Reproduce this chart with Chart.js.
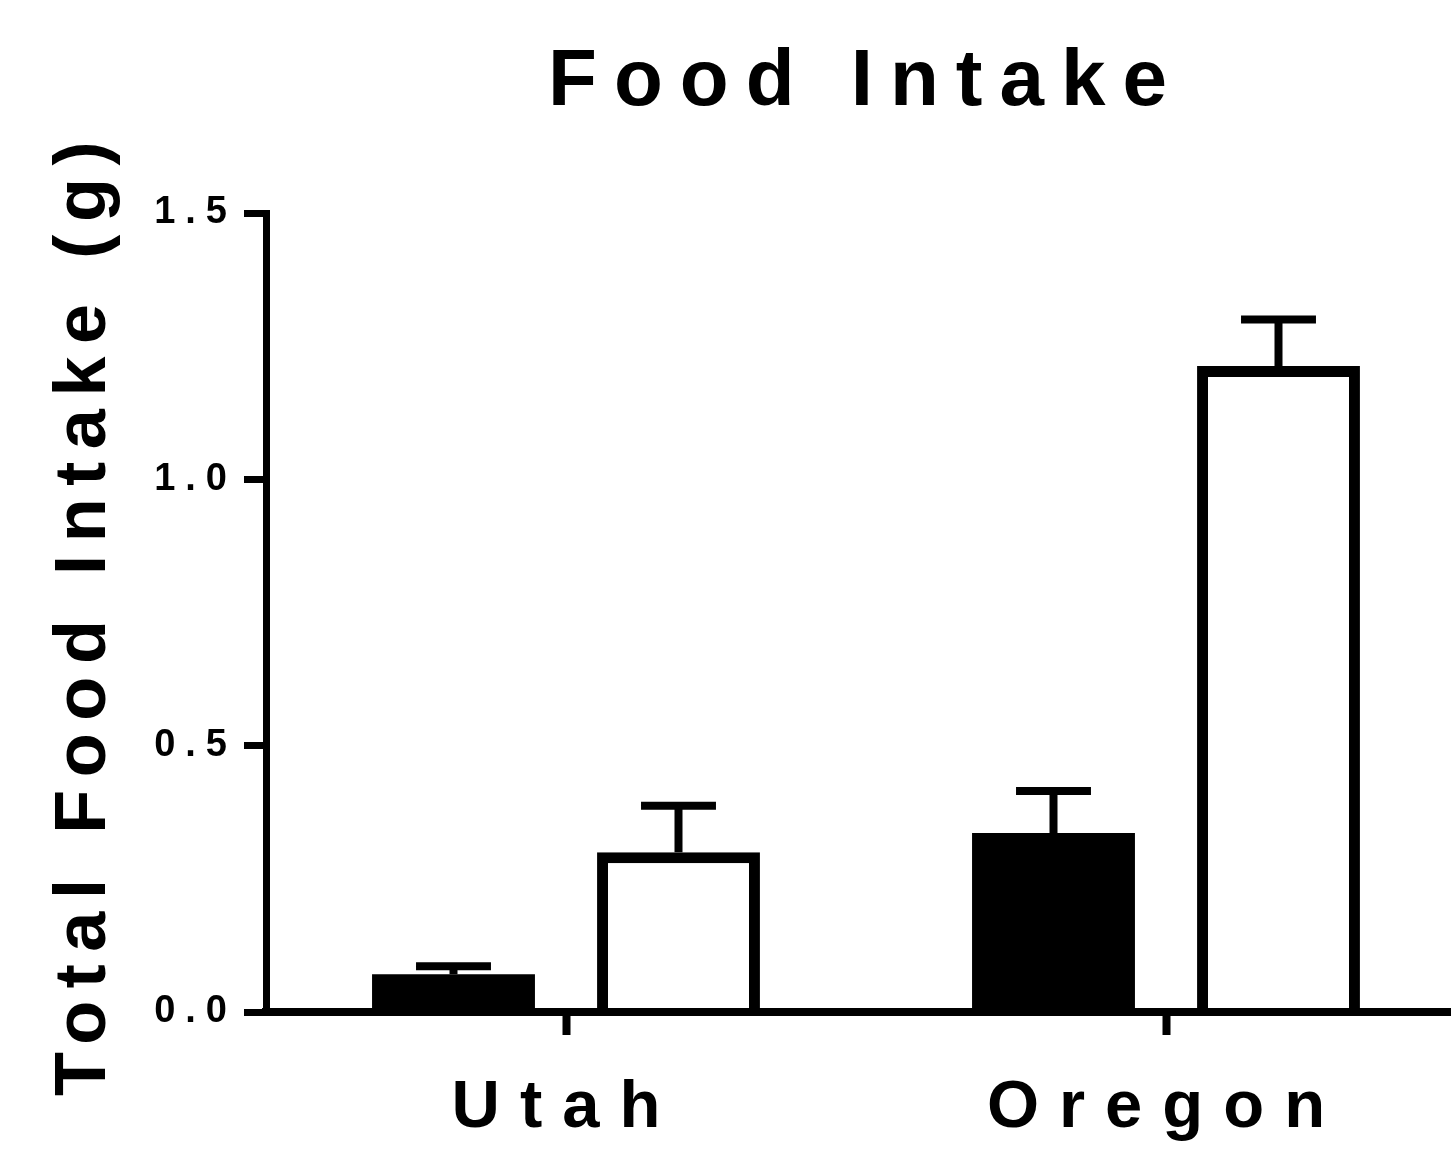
<!DOCTYPE html>
<html>
<head>
<meta charset="utf-8">
<script src="https://cdn.jsdelivr.net/npm/chart.js@4/dist/chart.umd.min.js"></script>
<style>
  html, body { margin: 0; padding: 0; background: #fff; overflow: hidden; }
  #wrap { width: 1466px; height: 1155px; }
</style>
</head>
<body>
<div id="wrap"><canvas id="c" width="1466" height="1155"></canvas></div>
<script>
// ---- data ----
const categories = ['Utah', 'Oregon'];
const filledMeans = [0.071, 0.336];
const filledErrors = [0.015, 0.079];
const openMeans = [0.300, 1.213];
const openErrors = [0.087, 0.087];
const yTickValues = [0, 0.5, 1.0, 1.5];
const chartTitle = 'Food Intake';
const yAxisTitle = 'Total Food Intake (g)';

// letter tracking (px) keyed by font size (px)
const TRACKING = { 80: 17, 72: 12.6, 67: 20, 38: 10 };
const FONT = "'Liberation Sans', Arial, Helvetica, sans-serif";

const canvas = document.getElementById('c');
const ctx = canvas.getContext('2d');

// Apply wide tracking whenever a font is set, and never squeeze text to a max width.
const proto = CanvasRenderingContext2D.prototype;
const fontProp = Object.getOwnPropertyDescriptor(proto, 'font');
Object.defineProperty(ctx, 'font', {
  configurable: true,
  get() { return fontProp.get.call(this); },
  set(v) {
    fontProp.set.call(this, v);
    const m = /(\d+(?:\.\d+)?)px/.exec(v);
    const t = m ? TRACKING[Math.round(parseFloat(m[1]))] : 0;
    if ('letterSpacing' in this) this.letterSpacing = (t || 0) + 'px';
  }
});
ctx.fillText = function (text, x, y) { proto.fillText.call(this, text, x, y); };

// Upward error bars (mean -> mean + SEM) with a cap
const errorBars = {
  id: 'errorBars',
  afterDatasetsDraw(chart) {
    const c = chart.ctx;
    const yScale = chart.scales.y;
    c.save();
    c.strokeStyle = '#000';
    c.lineWidth = 8;
    c.lineCap = 'butt';
    chart.data.datasets.forEach((ds, i) => {
      const meta = chart.getDatasetMeta(i);
      meta.data.forEach((bar, j) => {
        const v = ds.data[j];
        const e = ds.errors[j];
        const yv = yScale.getPixelForValue(v);
        const ye = yScale.getPixelForValue(v + e);
        const half = bar.width * 0.23;
        c.beginPath();
        c.moveTo(bar.x, yv);
        c.lineTo(bar.x, ye);
        c.moveTo(bar.x - half, ye);
        c.lineTo(bar.x + half, ye);
        c.stroke();
      });
    });
    c.restore();
  }
};

Chart.defaults.font.family = FONT;

new Chart(ctx, {
  type: 'bar',
  data: {
    labels: categories,
    datasets: [
      { label: 'Filled', data: filledMeans, errors: filledErrors,
        backgroundColor: '#000', borderColor: '#000', borderWidth: 0 },
      { label: 'Open', data: openMeans, errors: openErrors,
        backgroundColor: '#fff', borderColor: '#000', borderWidth: 11 }
    ]
  },
  options: {
    responsive: false,
    animation: false,
    devicePixelRatio: 1,
    layout: { padding: 0 },
    datasets: { bar: { categoryPercentage: 0.75, barPercentage: 0.724 } },
    plugins: {
      legend: { display: false },
      tooltip: { enabled: false },
      title: {
        display: true, text: chartTitle, fullSize: false, color: '#000',
        font: { family: FONT, size: 80, weight: 'bold', lineHeight: 1.2 },
        padding: { top: 35, bottom: 82 }
      }
    },
    scales: {
      x: {
        grid: { display: true, drawOnChartArea: false, drawTicks: true, offset: false,
                tickLength: 23, tickWidth: 8, tickColor: '#000', color: '#000' },
        border: { display: true, color: '#000', width: 8, z: 1 },
        ticks: { color: '#000', font: { family: FONT, size: 67, weight: 'bold' },
                 padding: 33, maxRotation: 0, autoSkip: false },
        afterFit(s) { s.height = 143; }
      },
      y: {
        min: 0, max: 1.5,
        afterBuildTicks(s) { s.ticks = yTickValues.map(v => ({ value: v })); },
        grid: { display: true, drawOnChartArea: false, drawTicks: true,
                tickLength: 22, tickWidth: 7, tickColor: '#000', color: '#000' },
        border: { display: true, color: '#000', width: 7, z: 1 },
        ticks: { color: '#000', font: { family: FONT, size: 38, weight: 'bold' },
                 padding: 7, callback: v => Number(v).toFixed(1) },
        title: { display: true, text: yAxisTitle, color: '#000',
                 font: { family: FONT, size: 72, weight: 'bold', lineHeight: 1.2 },
                 padding: { top: 42, bottom: 0 } },
        afterFit(s) { s.width = 266; }
      }
    }
  },
  plugins: [errorBars]
});
</script>
</body>
</html>
